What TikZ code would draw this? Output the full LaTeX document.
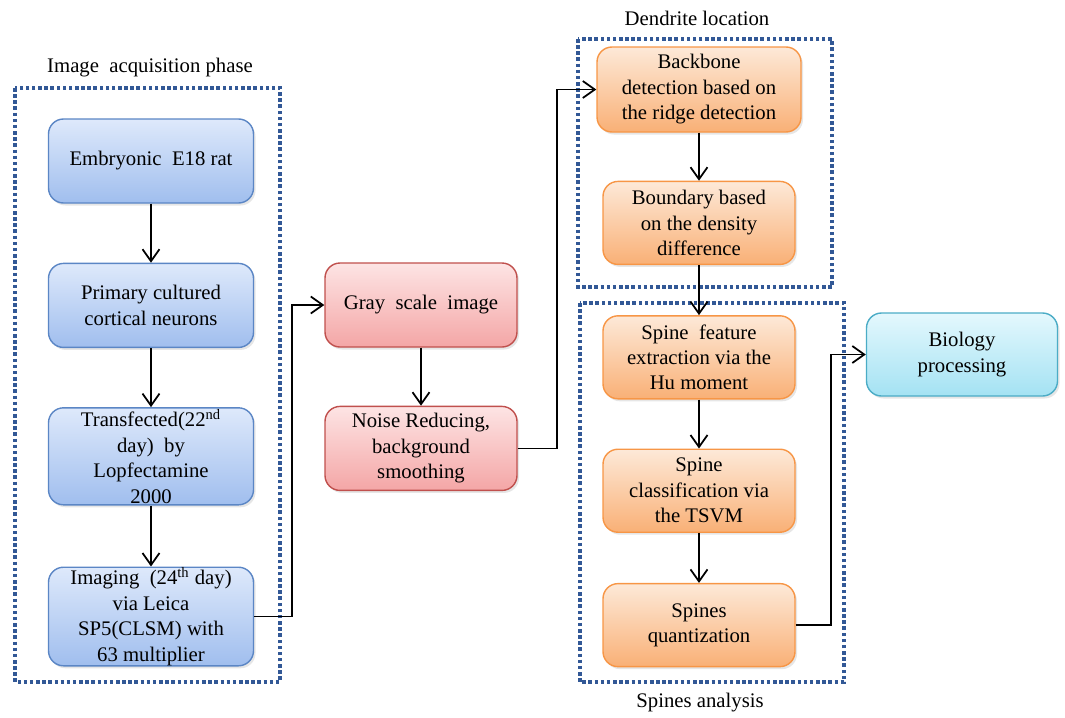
\documentclass[tikz,border=0pt]{standalone}
\usepackage{fontspec}
\setmainfont{Liberation Serif}
\usepackage{tikz}
\usetikzlibrary{arrows.meta, positioning, shadows}
\definecolor{framecol}{RGB}{50,88,150}
\definecolor{blueline}{RGB}{91,134,197}
\definecolor{redline}{RGB}{192,80,77}
\definecolor{orgline}{RGB}{247,150,70}
\definecolor{cyanline}{RGB}{75,172,198}
\tikzstyle{every node}=[font=\fontsize{11.8}{14.5}\selectfont]
\tikzstyle{block}=[draw,rectangle,rounded corners=0.3cm,align=center,line width=0.8pt,inner ysep=0pt,
  drop shadow={opacity=0.2,shadow xshift=0.04cm,shadow yshift=-0.05cm}]
\tikzstyle{acq}=[block,draw=blueline,top color={rgb,255:red,222;green,233;blue,251},bottom color={rgb,255:red,160;green,190;blue,238},minimum width=4.1cm]
\tikzstyle{pre}=[block,draw=redline,top color={rgb,255:red,253;green,228;blue,228},bottom color={rgb,255:red,244;green,166;blue,166},minimum width=3.84cm,minimum height=1.68cm]
\tikzstyle{ana}=[block,draw=orgline,top color={rgb,255:red,253;green,233;blue,216},bottom color={rgb,255:red,249;green,176;blue,118},minimum width=3.84cm,minimum height=1.66cm]
\tikzstyle{bio}=[block,draw=cyanline,top color={rgb,255:red,228;green,248;blue,253},bottom color={rgb,255:red,164;green,226;blue,243},minimum width=3.82cm,minimum height=1.66cm]
\tikzstyle{frame}=[draw=framecol,line width=2.3pt,dash pattern=on 2pt off 1.5pt]

\begin{document}
\begin{tikzpicture}[>={Straight Barb[length=0.24cm,width=0.34cm]},line width=1pt]
  \useasboundingbox (0,0) rectangle (21.3,-14.34);
  % groups
  \draw[frame] (0.3,-1.76) rectangle (5.6,-13.64);
  \draw[frame] (11.56,-0.78) rectangle (16.64,-5.74);
  \draw[frame] (11.6,-6.06) rectangle (16.88,-13.64);
  \node (acqlabel) at (3.0,-1.36) {Image\ \ acquisition phase};
  \node (dendlabel) at (13.94,-0.36) {Dendrite location};
  \node (spinelabel) at (14.0,-14.06) {Spines analysis};
  % acquisition
  \node[acq, minimum height=1.68cm] (embryo) at (3.02,-3.22) {Embryonic\ \ E18 rat};
  \node[acq, minimum height=1.68cm, below=1.18cm of embryo] (primary) {Primary cultured\\cortical neurons};
  \node[acq, minimum height=1.94cm, below=1.18cm of primary] (transfect) {Transfected(22\textsuperscript{nd}\\day)\ \ by\\Lopfectamine\\2000};
  \node[acq, minimum height=1.9cm, below=1.22cm of transfect] (imaging) {Imaging\ \ (24\textsuperscript{th} day)\\via Leica\\SP5(CLSM) with\\63 multiplier};
  % preprocessing
  \node[pre] (gray) at (8.42,-6.1) {Gray\ \ scale\ \ image};
  \node[pre, below=1.16cm of gray] (noise) {Noise Reducing,\\background\\smoothing};
  % dendrite and spines
  \node[ana, minimum width=4.08cm, minimum height=1.7cm] (backbone) at (13.98,-1.79) {Backbone\\detection based on\\the ridge detection};
  \node[ana, below=0.96cm of backbone] (boundary) {Boundary based\\on the density\\difference};
  \node[ana, below=1.0cm of boundary] (feature) {Spine\ \ feature\\extraction via the\\Hu moment};
  \node[ana, below=0.98cm of feature] (classify) {Spine\\classification via\\the TSVM};
  \node[ana, below=1.0cm of classify] (quant) {Spines\\quantization};
  \node[bio] (biology) at (19.24,-7.09) {Biology\\processing};
  % arrows
  \draw[->] (embryo) -- (primary);
  \draw[->] (primary) -- (transfect);
  \draw[->] (transfect) -- (imaging);
  \draw[->] (imaging.east) -- ++(0.75,0) |- (gray.west);
  \draw[->] (gray) -- (noise);
  \draw[->] (noise.east) -- ++(0.78,0) |- (backbone.west);
  \draw[->] (backbone) -- (boundary);
  \draw[->] (boundary) -- (feature);
  \draw[->] (feature) -- (classify);
  \draw[->] (classify) -- (quant);
  \draw[->] (quant.east) -- ++(0.7,0) |- (biology.west);
\end{tikzpicture}
\end{document}
